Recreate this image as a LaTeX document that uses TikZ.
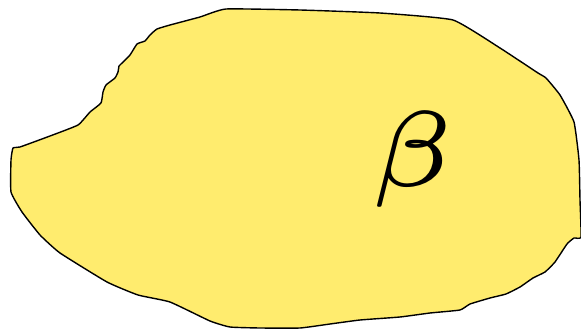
\documentclass[tikz,border=0pt]{standalone}
\begin{document}
\begin{tikzpicture}[x=1pt,y=-1pt,
  blob/.style={draw=black,line width=1.4pt,fill=blobyellow,line join=round},
  lbl/.style={inner sep=0pt,anchor=base,scale=21.5}]
\definecolor{blobyellow}{RGB}{255,236,110}
\useasboundingbox (0,0) rectangle (581,329);
\draw[blob] plot[smooth cycle,tension=0.25] coordinates {
(13,148) (20,147) (50,136) (78,125) (90,112) (101,103) (103,92) (106,85) (115,78)
(118,72) (119,66) (121,64) (130,55) (137,44) (145,41) (150,35) (157,29) (170,25)
(200,17) (226,9) (300,10) (380,13) (453,20) (500,48) (538,73) (546,78) (560,95)
(574,122) (579,160) (580,200) (581,237) (574,238) (567,244) (555,262) (545,272)
(533,278) (520,287) (506,294) (490,298) (470,304) (460,310) (430,313) (400,317)
(360,320) (330,324) (300,328) (260,328) (230,327) (210,321) (170,302) (138,295)
(107,282) (60,253) (40,235) (22,212) (11,192) (11,160)};
\node[lbl] (beta) at (413,186) {$\scriptscriptstyle\beta$};
\end{tikzpicture}
\end{document}
